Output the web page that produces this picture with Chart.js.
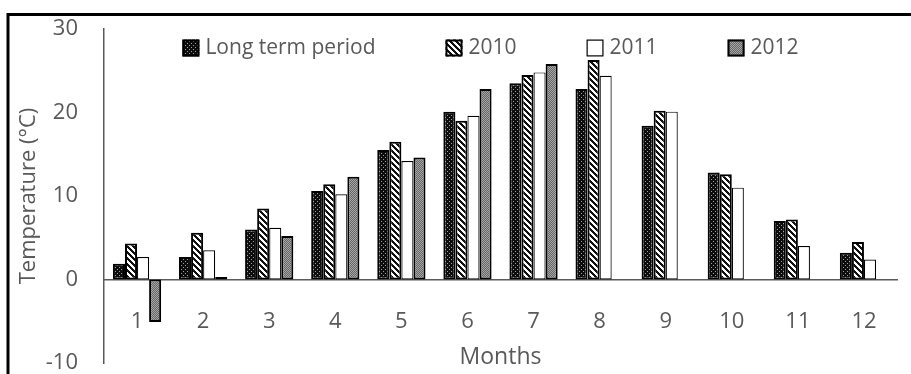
<!DOCTYPE html>
<html>
<head>
<meta charset="utf-8">
<title>Monthly temperature</title>
<script src="https://cdn.jsdelivr.net/npm/chart.js@4/dist/chart.umd.min.js"></script>
<style>
  html, body { margin: 0; padding: 0; background: #ffffff; }
  canvas { display: block; }
</style>
</head>
<body>
<canvas id="chart" width="911" height="374"></canvas>
<script>
// Monthly mean air temperature (°C)
const months = ['1', '2', '3', '4', '5', '6', '7', '8', '9', '10', '11', '12'];
const seriesNames = ['Long term period', '2010', '2011', '2012'];
const longTerm = [1.9, 2.7, 6.0, 10.6, 15.5, 20.1, 23.5, 22.8, 18.4, 12.8, 7.0, 3.2];
const temp2010 = [4.3, 5.6, 8.5, 11.4, 16.5, 19.0, 24.5, 26.3, 20.2, 12.6, 7.2, 4.5];
const temp2011 = [2.7, 3.5, 6.2, 10.2, 14.2, 19.6, 24.8, 24.4, 20.1, 11.0, 4.0, 2.4];
const temp2012 = [-5.1, 0.3, 5.2, 12.3, 14.6, 22.8, 25.8, null, null, null, null, null];
const yTicks = [-10, 0, 10, 20, 30];

const FONT = '"Open Sans", "DejaVu Sans", sans-serif';
const TEXT = '#595959';
const AXIS = '#5a5a5a';

const canvas = document.getElementById('chart');
const mainCtx = canvas.getContext('2d');

// Small repeating tiles used as bar fills
function makePattern(w, h, paint) {
  const t = document.createElement('canvas');
  t.width = w; t.height = h;
  const g = t.getContext('2d');
  paint(g, w, h);
  return mainCtx.createPattern(t, 'repeat');
}

const dotsFill = makePattern(4, 4, (g) => {
  g.fillStyle = '#0d0d0d'; g.fillRect(0, 0, 4, 4);
  g.fillStyle = '#a0a0a0'; g.fillRect(1, 1, 1, 1); g.fillRect(3, 3, 1, 1);
});
const stripeFill = makePattern(6, 6, (g, w, h) => {
  g.fillStyle = '#ffffff'; g.fillRect(0, 0, w, h);
  g.fillStyle = '#111111';
  for (let y = 0; y < h; y++) {
    for (let x = 0; x < w; x++) {
      if (((x - y) % 6 + 6) % 6 < 3) g.fillRect(x, y, 1, 1);
    }
  }
});
const greyFill = makePattern(2, 2, (g) => {
  g.fillStyle = '#666666'; g.fillRect(0, 0, 2, 2);
  g.fillStyle = '#a6a6a6'; g.fillRect(0, 0, 1, 1); g.fillRect(1, 1, 1, 1);
});

// White page and the outer frame
const framePlugin = {
  id: 'frame',
  beforeDraw(chart) {
    const ctx = chart.ctx;
    ctx.save();
    ctx.fillStyle = '#ffffff';
    ctx.fillRect(0, 0, chart.width, chart.height);
    ctx.restore();
  },
  afterDraw(chart) {
    const ctx = chart.ctx;
    ctx.save();
    ctx.strokeStyle = '#000000';
    ctx.lineWidth = 3;
    ctx.beginPath();
    ctx.moveTo(8, chart.height);
    ctx.lineTo(8, 14.5);
    ctx.lineTo(chart.width, 14.5);
    ctx.stroke();
    ctx.restore();
  }
};

// Legend drawn in one row along the top of the plot area
const rowLegend = {
  id: 'rowLegend',
  afterDatasetsDraw(chart) {
    const ctx = chart.ctx;
    const area = chart.chartArea;
    const box = 17, textGap = 6, itemGap = 70;
    ctx.save();
    ctx.font = `21px ${FONT}`;
    const items = chart.data.datasets.map(ds => ({ ds, w: ctx.measureText(ds.label).width }));
    const total = items.reduce((s, it) => s + box + textGap + it.w, 0) + itemGap * (items.length - 1);
    let x = (area.left + area.right) / 2 - 10 - total / 2;
    const cy = area.top + 19;
    items.forEach(({ ds, w }) => {
      ctx.fillStyle = ds.backgroundColor;
      ctx.fillRect(x, cy - box / 2, box, box);
      const bw = ds.borderWidth;
      ctx.lineWidth = bw;
      ctx.strokeStyle = ds.borderColor;
      ctx.strokeRect(x + bw / 2, cy - box / 2 + bw / 2, box - bw, box - bw);
      ctx.fillStyle = TEXT;
      ctx.textBaseline = 'middle';
      ctx.textAlign = 'left';
      ctx.fillText(ds.label, x + box + textGap, cy);
      x += box + textGap + w + itemGap;
    });
    ctx.restore();
  }
};

const fills = [dotsFill, stripeFill, '#ffffff', greyFill];
const borderWidths = [2, 2, 1.2, 2];
const values = [longTerm, temp2010, temp2011, temp2012];

new Chart(canvas, {
  type: 'bar',
  data: {
    labels: months,
    datasets: seriesNames.map((name, i) => ({
      label: name,
      data: values[i],
      backgroundColor: fills[i],
      borderColor: '#000000',
      borderWidth: borderWidths[i],
      borderSkipped: false,
      categoryPercentage: 0.73,
      barPercentage: 1.0
    }))
  },
  options: {
    responsive: false,
    animation: false,
    events: [],
    layout: { padding: { top: 29, bottom: 11, right: 14, left: 0 } },
    plugins: {
      legend: { display: false },
      tooltip: { enabled: false }
    },
    scales: {
      x: {
        position: { y: 0 },
        grid: { display: false, drawTicks: false },
        border: { display: true, color: AXIS, width: 1.5 },
        ticks: { padding: 29, maxRotation: 0, autoSkip: false, color: TEXT, font: { family: FONT, size: 22 } },
        title: { display: true, text: 'Months', color: TEXT, padding: { top: 0, bottom: 0 }, font: { family: FONT, size: 23 } },
        afterFit(scale) {
          scale.paddingLeft = 0;
          scale.paddingRight = 0;
          scale.height = 92;
        }
      },
      y: {
        min: -10,
        max: 30,
        grid: { display: false, drawTicks: false },
        border: { display: true, color: AXIS, width: 1.5 },
        ticks: { stepSize: 10, padding: 26, color: TEXT, font: { family: FONT, size: 22 } },
        afterBuildTicks(scale) {
          scale.ticks = yTicks.map(v => ({ value: v }));
        },
        title: { display: true, text: 'Temperature (°C)', color: TEXT, padding: { top: 16, bottom: 0 }, font: { family: FONT, size: 22 } },
        afterFit(scale) {
          scale.width = 104;
          scale.paddingTop = 0;
          scale.paddingBottom = 0;
        }
      }
    }
  },
  plugins: [framePlugin, rowLegend]
});
</script>
</body>
</html>
